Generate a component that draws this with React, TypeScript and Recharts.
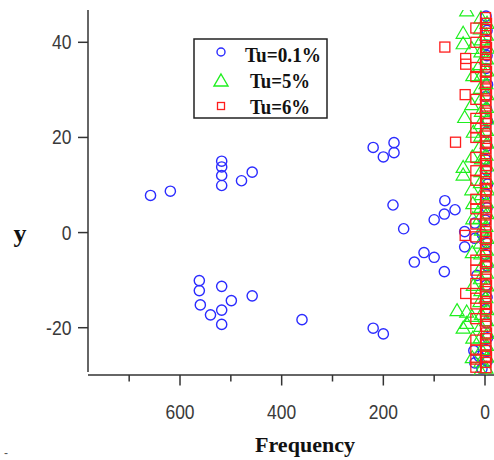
import React from 'react';
import { ScatterChart, Scatter, XAxis, YAxis, ReferenceLine } from 'recharts';

// ---- data (Frequency, y) ----
const TU01_POINTS: [number, number][] = [
  [658, 7.8], [619, 8.7], [518, 15.0], [518, 13.8], [518, 12.0], [518, 9.9], [479, 10.9], [458, 12.7],
  [562, -10.1], [562, -12.2], [560, -15.2], [540, -17.3], [518, -11.3], [518, -16.3], [518, -19.3],
  [499, -14.3], [458, -13.3], [360, -18.3], [220, -20.1], [200, -21.3],
  [220, 17.9], [200, 15.9], [179, 18.9], [179, 16.8], [181, 5.8], [160, 0.8],
  [79, 6.7], [59, 4.8], [80, 3.9], [100, 2.7], [139, -6.2], [120, -4.2], [100, -5.2], [80, -8.2],
  [40, 0.2], [40, -3.0], [20, 2.0], [20, -1.2], [22, -24.8], [12, -26.0], [20, -27.4],
  [-2, 45.5], [-4, 42.5], [-1, 39.5], [-4, 37.2], [-2, 34.5], [-5, 31.1], [-1, 28.6], [-3, 26.0],
  [-5, 23.4], [-2, 21.1], [-4, 18.2], [-1, 15.4], [-3, 13.1], [-5, 10.2], [-2, 8.1], [-4, 5.2],
  [-1, 2.6], [5, -0.4], [-3, -2.1], [-1, -4.6], [-4, -7.0], [16, -9.0], [-2, -11.1], [-4, -13.6],
  [-1, -16.2], [-3, -19.0], [-5, -22.1], [-2, -24.6], [-4, -27.1], [6, -28.6],
];

const TU5_POINTS: [number, number][] = [
  [43, 42.0], [43, 39.8], [40, 24.3], [43, 13.8], [43, 12.2], [55, -16.3], [43, -20.0],
  [36, -16.6], [36, -19.0], [36, 46.7], [24, 6.2],
  [26, 38.8], [24, 33.1], [26, 27.0], [23, 21.2], [25, 16.0], [26, 9.1], [24, 3.0], [25, -4.1],
  [23, -11.0], [26, -17.5], [24, -22.1], [25, -26.2],
  [8, 45.2], [9, 42.9], [7, 40.6], [8, 38.1], [10, 35.4], [7, 33.2], [9, 30.4], [8, 28.1],
  [7, 25.6], [9, 23.0], [8, 20.4], [10, 18.1], [7, 15.6], [8, 12.9], [9, 10.6], [7, 8.1],
  [8, 5.4], [10, 3.1], [7, 0.6], [9, -2.1], [8, -4.4], [7, -7.1], [9, -9.6], [8, -12.1],
  [10, -14.4], [7, -17.1], [8, -19.6], [9, -22.0], [7, -24.5], [8, -27.1], [9, -29.0],
  [-4, 44.1], [-3, 41.6], [-5, 38.9], [-3, 36.6], [-4, 34.1], [-2, 31.4], [-4, 29.1], [-3, 26.4],
  [-5, 24.0], [-3, 21.6], [-4, 18.9], [-2, 16.4], [-4, 14.1], [-3, 11.4], [-5, 9.1], [-3, 6.4],
  [-4, 4.1], [-2, 1.4], [-4, -1.1], [-3, -3.6], [-5, -6.1], [-3, -8.4], [-4, -11.1], [-2, -13.6],
  [-4, -16.1], [-3, -18.4], [-5, -21.1], [-3, -23.6], [-4, -26.1], [-2, -28.4],
];

const TU6_POINTS: [number, number][] = [
  [79, 39.0], [58, 19.0], [39, 29.0], [38, 36.6], [38, 35.4], [39, -0.6], [38, -12.8],
  [18, 43.0], [18, 40.0], [18, 34.7], [18, 32.8], [18, 28.0], [18, 24.0], [18, 22.0], [18, 20.0],
  [18, 15.8], [18, 13.0], [18, 11.0], [18, 7.0], [18, 5.0], [18, 1.8], [18, -0.9], [18, -5.8],
  [18, -7.9], [18, -10.7], [18, -13.8], [18, -15.0], [18, -18.1], [18, -22.6], [18, -24.7],
  [18, -26.6], [18, -28.3],
  [-1, 45.2], [-3, 44.0], [-1, 42.7], [-2, 41.4], [-1, 40.2], [-3, 38.9], [-1, 37.8], [-2, 36.4],
  [-1, 35.3], [-3, 33.9], [-1, 32.7], [-2, 31.6], [-1, 30.2], [-3, 29.0], [-1, 27.7], [-2, 26.6],
  [-1, 25.1], [-3, 24.0], [-1, 22.9], [-2, 21.4], [-1, 20.3], [-3, 19.0], [-1, 17.7], [-2, 16.6],
  [-1, 15.2], [-3, 14.1], [-1, 12.8], [-2, 11.4], [-1, 10.3], [-3, 9.0], [-1, 7.7], [-2, 6.6],
  [-1, 5.2], [-3, 4.1], [-1, 2.7], [-2, 1.6], [-1, 0.2], [-3, -1.1], [-1, -2.3], [-2, -3.6],
  [-1, -4.8], [-3, -6.1], [-1, -7.2], [-2, -8.6], [-1, -9.8], [-3, -11.0], [-1, -12.4], [-2, -13.5],
  [-1, -14.9], [-3, -16.0], [-1, -17.2], [-2, -18.6], [-1, -19.7], [-3, -21.1], [-1, -22.3],
  [-2, -23.6], [-1, -24.8], [-3, -26.0], [-1, -27.3], [-2, -28.4],
];

const SERIES_NAMES = ['Tu=0.1%', 'Tu=5%', 'Tu=6%'];
const X_TICKS = [700, 600, 500, 400, 300, 200, 100, 0];
const X_LABELED = [600, 400, 200, 0];
const Y_TICKS = [40, 20, 0, -20];
const X_TITLE = 'Frequency';
const Y_TITLE = 'y';

const X_DOMAIN: [number, number] = [-17.7, 781];
const Y_DOMAIN: [number, number] = [-29.94, 46.79];
const Y_AXIS_BOTTOM = -29.31;

const BLUE = '#2b2bff';
const GREEN = '#1fef1f';
const RED = '#ff1c1c';
const AXIS = '#333333';
const TICK_FONT = "'Liberation Sans', Arial, sans-serif";
const SERIF = "'Liberation Serif', 'Times New Roman', serif";

const toRows = (pts: [number, number][]) => pts.map(([f, y]) => ({ f, y }));

// narrow tick lettering, as in the reference
const labelWidth = (s: string) => s.replace('-', '').length * 9.7 + (s.startsWith('-') ? 6 : 0);

const CircleShape = (p: any) => (
  <circle cx={p.cx} cy={p.cy} r={5.1} fill="none" stroke={BLUE} strokeWidth={1.4} />
);
const TriShape = (p: any) => (
  <path
    d={`M${p.cx},${p.cy - 6.5}L${p.cx + 7},${p.cy + 5.5}L${p.cx - 7},${p.cy + 5.5}Z`}
    fill="none"
    stroke={GREEN}
    strokeWidth={1.2}
  />
);
const SquareShape = (p: any) => (
  <rect x={p.cx - 5} y={p.cy - 5} width={10} height={10} fill="none" stroke={RED} strokeWidth={1.3} />
);

const XTick = (p: any) => {
  const { x, y, payload } = p;
  const major = X_LABELED.includes(payload.value);
  const s = String(payload.value);
  return (
    <g>
      <line x1={x} x2={x} y1={y} y2={y + (major ? 10.5 : 6.5)} stroke={AXIS} strokeWidth={1.5} />
      {major && (
        <text
          x={x}
          y={y + 44}
          textAnchor="middle"
          fontFamily={TICK_FONT}
          fontSize={20}
          fill="#3a3a3a"
          textLength={labelWidth(s)}
          lengthAdjust="spacingAndGlyphs"
        >
          {s}
        </text>
      )}
    </g>
  );
};

const YTick = (p: any) => {
  const { x, y, payload } = p;
  const s = String(payload.value);
  return (
    <g>
      <line x1={x - 10} x2={x} y1={y} y2={y} stroke={AXIS} strokeWidth={1.5} />
      <text
        x={x - 16.5}
        y={y + 7}
        textAnchor="end"
        fontFamily={TICK_FONT}
        fontSize={20}
        fill="#3a3a3a"
        textLength={labelWidth(s)}
        lengthAdjust="spacingAndGlyphs"
      >
        {s}
      </text>
    </g>
  );
};

export default function App() {
  return (
    <div style={{ position: 'absolute', left: 0, top: 0, width: 494, height: 460, background: '#fff' }}>
      <ScatterChart width={494} height={460} margin={{ top: 10, right: 0, bottom: 0, left: 0 }}>
        <XAxis
          type="number"
          dataKey="f"
          domain={X_DOMAIN}
          reversed
          allowDataOverflow
          ticks={X_TICKS}
          interval={0}
          height={85}
          tickSize={0}
          tickMargin={0}
          tickLine={false}
          tick={<XTick />}
          axisLine={{ stroke: AXIS, strokeWidth: 1.5 }}
        />
        <YAxis
          type="number"
          dataKey="y"
          domain={Y_DOMAIN}
          allowDataOverflow
          ticks={Y_TICKS}
          interval={0}
          width={88}
          tickSize={0}
          tickMargin={0}
          tickLine={false}
          tick={<YTick />}
          axisLine={false}
        />
        <ReferenceLine
          segment={[{ x: X_DOMAIN[1], y: Y_DOMAIN[1] }, { x: X_DOMAIN[1], y: Y_AXIS_BOTTOM }]}
          stroke={AXIS}
          strokeWidth={1.5}
          ifOverflow="visible"
        />
        <Scatter name={SERIES_NAMES[0]} data={toRows(TU01_POINTS)} shape={CircleShape} isAnimationActive={false} />
        <Scatter name={SERIES_NAMES[1]} data={toRows(TU5_POINTS)} shape={TriShape} isAnimationActive={false} />
        <Scatter name={SERIES_NAMES[2]} data={toRows(TU6_POINTS)} shape={SquareShape} isAnimationActive={false} />
      </ScatterChart>
      <svg
        width={494}
        height={460}
        style={{ position: 'absolute', left: 0, top: 0, pointerEvents: 'none' }}
      >
        <rect x={194} y={39} width={133} height={79} fill="#fff" stroke="#222" strokeWidth={1.5} />
        <circle cx={221} cy={52} r={4} fill="none" stroke={BLUE} strokeWidth={1.4} />
        <path d="M221,74 L228,86 L214,86 Z" fill="none" stroke={GREEN} strokeWidth={1.4} />
        <rect x={217.5} y={102.5} width={7} height={7} fill="none" stroke={RED} strokeWidth={1.3} />
        <text x={245} y={61.5} fontFamily={SERIF} fontWeight="bold" fontSize={20} fill="#111" textLength={76} lengthAdjust="spacingAndGlyphs">
          {SERIES_NAMES[0]}
        </text>
        <text x={250} y={88} fontFamily={SERIF} fontWeight="bold" fontSize={20} fill="#111" textLength={60} lengthAdjust="spacingAndGlyphs">
          {SERIES_NAMES[1]}
        </text>
        <text x={250} y={114} fontFamily={SERIF} fontWeight="bold" fontSize={20} fill="#111" textLength={60} lengthAdjust="spacingAndGlyphs">
          {SERIES_NAMES[2]}
        </text>
        <text x={20} y={242} textAnchor="middle" fontFamily={SERIF} fontWeight="bold" fontSize={26} fill="#111">
          {Y_TITLE}
        </text>
        <text x={255} y={452} fontFamily={SERIF} fontWeight="bold" fontSize={21} fill="#111" textLength={100} lengthAdjust="spacingAndGlyphs">
          {X_TITLE}
        </text>
        <text x={4} y={457} fontFamily={TICK_FONT} fontSize={12} fill="#555">-</text>
      </svg>
    </div>
  );
}
